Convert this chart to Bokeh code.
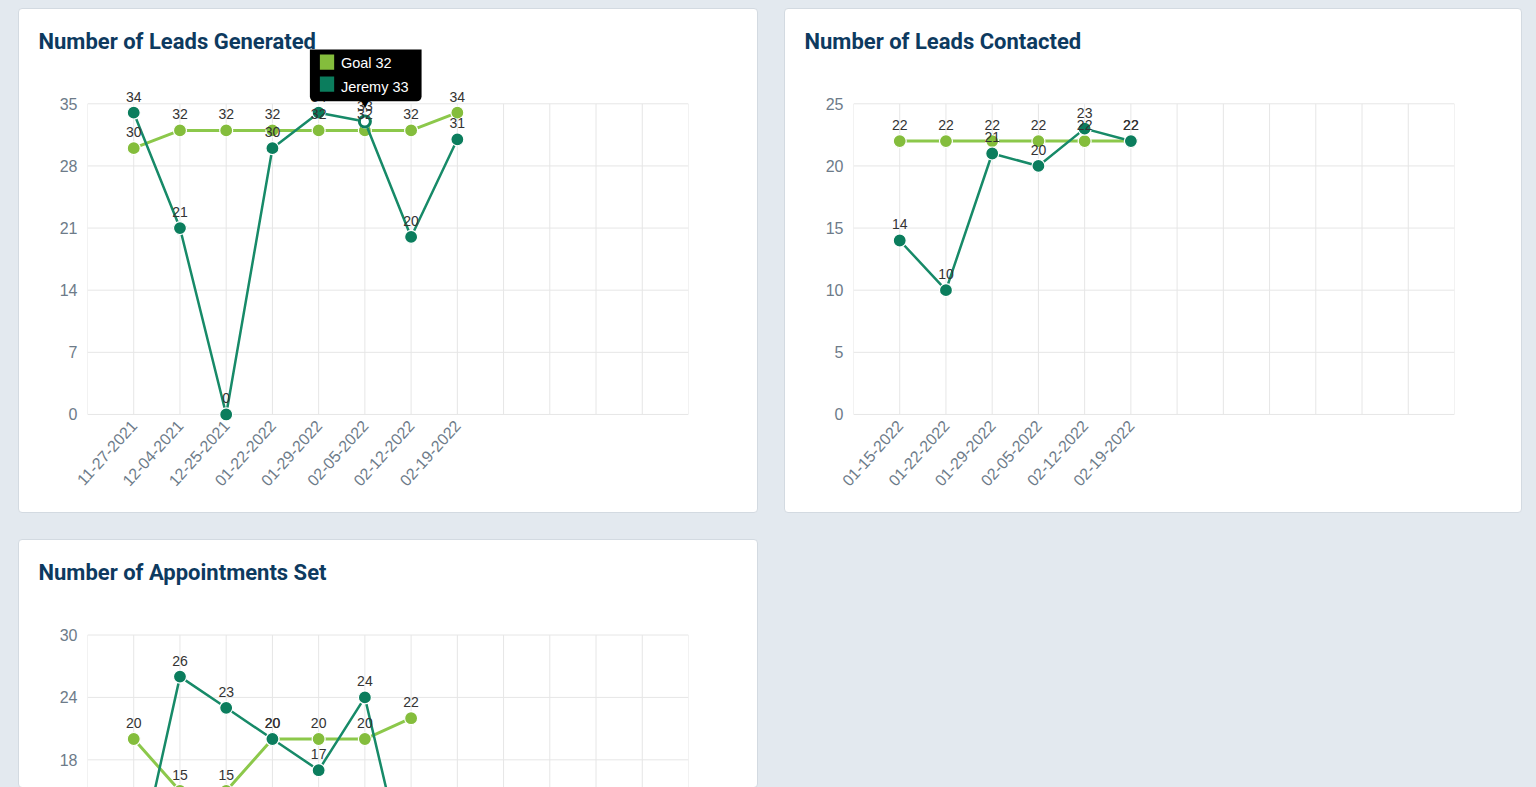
import math
from bokeh.plotting import figure
from bokeh.models import FixedTicker, Range1d, Label, LabelSet, ColumnDataSource
from bokeh.layouts import column, row
from bokeh.embed import file_html
from bokeh.resources import INLINE
from bokeh.core.properties import value

# ---------------- data ----------------
gen_dates = ["11-27-2021", "12-04-2021", "12-25-2021", "01-22-2022",
             "01-29-2022", "02-05-2022", "02-12-2022", "02-19-2022"]
gen_goal = [30, 32, 32, 32, 32, 32, 32, 34]
gen_jeremy = [34, 21, 0, 30, 34, 33, 20, 31]

con_dates = ["01-15-2022", "01-22-2022", "01-29-2022", "02-05-2022",
             "02-12-2022", "02-19-2022"]
con_goal = [22, 22, 22, 22, 22, 22]
con_jeremy = [14, 10, 21, 20, 23, 22]

app_goal = [20, 15, 15, 20, 20, 20, 22]
app_jeremy = [6, 26, 23, 20, 17, 24, 5]

gen_yticks = [0, 7, 14, 21, 28, 35]
con_yticks = [0, 5, 10, 15, 20, 25]
app_yticks = [0, 6, 12, 18, 24, 30]

series_names = ["Goal", "Jeremy"]
hover_index = 5  # hovered point in first chart (02-05-2022)
n_slots = 13

# ---------------- style / layout (pixels) ----------------
GOAL = "#84bd3c"
JER = "#0b7d5d"
GOAL_LINE = "#8cc84b"
JER_LINE = "#178a68"
GRID = "#e6e6e6"
TICK = "#6d7b89"
TITLE = "#0d3a5f"
BG = "#e3e9ef"
FONT = "Liberation Sans"

TOP_BORDER = 40     # canvas top -> frame top
HEAD_PX = 54        # frame top -> highest tick
AXIS_PX = 309       # lowest tick -> highest tick
FOOT_PX = 7         # zero line -> frame bottom
FRAME_H = HEAD_PX + AXIS_PX + FOOT_PX
LABEL_GAP = 10      # data label bottom above its point


def y_range_for(yticks, frame_h=FRAME_H):
    k = AXIS_PX / (yticks[-1] - yticks[0])
    end = yticks[-1] + HEAD_PX / k
    start = end - frame_h / k
    return Range1d(start, end), k


def make_card(title, w, h, left, right, bottom, yticks, dates, frame_h=FRAME_H,
              show_x=True):
    yr, k = y_range_for(yticks, frame_h)
    p = figure(width=w, height=h, output_backend="svg", toolbar_location=None,
               x_range=Range1d(0, n_slots), y_range=yr,
               min_border_left=left, min_border_right=right,
               min_border_top=TOP_BORDER, min_border_bottom=bottom,
               background_fill_color=None, border_fill_color=None)
    p.styles = {"border": "1px solid #d3dae1", "border-radius": "4px",
                "overflow": "hidden", "box-sizing": "border-box",
                "background-color": "white"}
    p.title.text = title
    p.title.text_font = "Roboto"
    p.title.text_font_style = "bold"
    p.title.text_font_size = "22px"
    p.title.text_color = TITLE
    p.title.align = "left"
    p.title.offset = -(left - 19)
    p.title.standoff = -8
    p.outline_line_color = None
    p.xgrid.grid_line_color = None
    p.ygrid.grid_line_color = None
    # grid drawn within the chart's value area only
    xs = list(range(n_slots + 1))
    p.segment(x0=xs, y0=[yticks[0]] * len(xs), x1=xs,
              y1=[yticks[-1]] * len(xs), line_color=GRID, line_width=1)
    p.segment(x0=[0] * len(yticks), y0=yticks, x1=[n_slots] * len(yticks),
              y1=yticks, line_color=GRID, line_width=1)

    p.xaxis.ticker = FixedTicker(ticks=list(range(1, len(dates) + 1)))
    p.xaxis.major_label_overrides = {i + 1: d for i, d in enumerate(dates)}
    p.xaxis.major_label_orientation = math.radians(48)
    p.yaxis.ticker = FixedTicker(ticks=yticks)
    for ax in (p.xaxis[0], p.yaxis[0]):
        ax.axis_line_color = None
        ax.major_tick_line_color = None
        ax.minor_tick_line_color = None
        ax.major_tick_out = 0
        ax.major_tick_in = 0
        ax.major_label_text_color = TICK
        ax.major_label_text_font = FONT
        ax.major_label_text_font_size = "16px"
    p.yaxis.major_label_standoff = 10
    p.xaxis.major_label_standoff = 1
    p.xaxis.visible = show_x
    return p, yr, k


def add_series(p, yr, k, goal, jer):
    xs_g = list(range(1, len(goal) + 1))
    xs_j = list(range(1, len(jer) + 1))
    p.line(xs_g, goal, line_color=GOAL_LINE, line_width=3)
    p.scatter(xs_g, goal, size=13, fill_color=GOAL, line_color="white",
              line_width=1.2)
    p.line(xs_j, jer, line_color=JER_LINE, line_width=2.5)
    p.scatter(xs_j, jer, size=13, fill_color=JER, line_color="white",
              line_width=1.2)
    # labels only where their text is inside the visible chart area
    lx, ly, lt = [], [], []
    for x, v in list(zip(xs_g, goal)) + list(zip(xs_j, jer)):
        if (v - yr.start) * k + LABEL_GAP >= 0:
            lx.append(x)
            ly.append(v)
            lt.append(str(v))
    src = ColumnDataSource(dict(x=lx, y=ly, t=lt))
    p.add_layout(LabelSet(x="x", y="y", text="t", source=src,
                          y_offset=LABEL_GAP + 1,
                          text_align="center", text_baseline="bottom",
                          text_font=value(FONT), text_font_size="14px",
                          text_color="#333333"))


# card 1
p1, yr1, k1 = make_card("Number of Leads Generated", 740, 505, 68, 71, 93,
                        gen_yticks, gen_dates)
add_series(p1, yr1, k1, gen_goal, gen_jeremy)
# hovered point
hx, hy = hover_index + 1, gen_jeremy[hover_index]
p1.scatter([hx], [hy], size=11, fill_color="white", line_color=JER,
           line_width=3)
# tooltip (box anchored at its top-left, offsets in screen pixels)
p1.add_layout(Label(x=hx, y=hy, x_offset=-55, y_offset=78,
                    text=f"{series_names[0]} {gen_goal[hover_index]}\n"
                         f"{series_names[1]} {gen_jeremy[hover_index]}",
                    text_color="white", text_font=FONT,
                    text_font_size="14.5px",
                    text_line_height=1.55, text_align="left",
                    text_baseline="top", background_fill_color="black",
                    border_radius=5, padding=(31, 13, 11, 6)))
p1.add_layout(Label(x=hx, y=hy, x_offset=0, y_offset=18, text="\u25bc",
                    text_color="black", text_font="DejaVu Sans",
                    text_font_size="11px", text_align="center",
                    text_baseline="middle"))
for kk, c in enumerate([GOAL, JER]):
    p1.add_layout(Label(x=hx, y=hy, x_offset=-45, y_offset=67 - 22 * kk,
                        text=" ", text_font_size="1px", text_align="left",
                        text_baseline="top", background_fill_color=c,
                        padding=7))

# card 2
p2, yr2, k2 = make_card("Number of Leads Contacted", 738, 505, 68, 69, 93,
                        con_yticks, con_dates)
add_series(p2, yr2, k2, con_goal, con_jeremy)

# card 3 (cut off by the window bottom)
frame3 = 787 - 540 - TOP_BORDER
p3, yr3, k3 = make_card("Number of Appointments Set", 740, 249, 68, 71, 0,
                        app_yticks, [], frame_h=frame3, show_x=False)
add_series(p3, yr3, k3, app_goal, app_jeremy)

layout = column(row(p1, p2, spacing=26), p3, spacing=26,
                margin=(8, 0, 0, 18))

html = file_html(layout, INLINE, title="Dashboard")
style = (f"<style>html, body {{ background-color: {BG} !important; "
         f"overflow: hidden !important; }}</style>")
html = html.replace("</head>", style + "</head>", 1)
open("out.html", "w").write(html)
